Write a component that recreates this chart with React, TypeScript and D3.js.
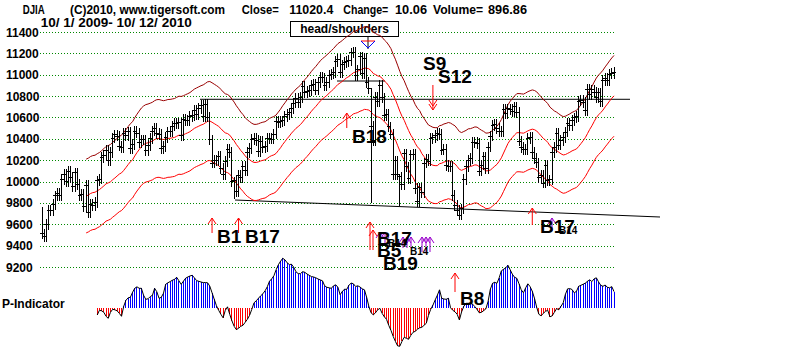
import React from 'react';
import * as d3 from 'd3';

// ---- DJIA daily closes, 10/1/2009 - 10/12/2010 ----
const prevClose = 9712;
const closesOct09 = [9509, 9488, 9600, 9731, 9726, 9787, 9865, 9886, 9871, 10016, 10063, 9996, 10092, 10041, 9949, 10081, 9972, 9868, 9882, 9763, 9963, 9713];
const closesNov09 = [9789, 9772, 9802, 10006, 10023, 10227, 10247, 10291, 10197, 10270, 10407, 10437, 10426, 10332, 10318, 10451, 10434, 10464, 10310, 10345];
const closesDec09 = [10472, 10453, 10366, 10389, 10390, 10286, 10337, 10406, 10472, 10501, 10452, 10441, 10308, 10329, 10414, 10465, 10466, 10520, 10547, 10545, 10549, 10428];
const closesJan10 = [10584, 10572, 10574, 10607, 10618, 10664, 10627, 10681, 10711, 10610, 10725, 10603, 10390, 10173, 10197, 10194, 10236, 10120, 10067];
const closesFeb10 = [10186, 10297, 10271, 10002, 10012, 9908, 10059, 10038, 10144, 10099, 10269, 10309, 10393, 10402, 10383, 10282, 10374, 10321, 10325];
const closesMar10 = [10404, 10406, 10397, 10444, 10566, 10553, 10564, 10568, 10612, 10625, 10642, 10686, 10734, 10779, 10742, 10786, 10889, 10836, 10841, 10850, 10896, 10907, 10857];
const closesApr10 = [10927, 10974, 10970, 10898, 10927, 10997, 11006, 11019, 11123, 11145, 11019, 11092, 11117, 11125, 11134, 11204, 11205, 10992, 11045, 11167, 11009];
const closesMay10 = [11152, 10927, 10868, 10520, 10380, 10785, 10748, 10897, 10783, 10620, 10626, 10511, 10444, 10068, 10193, 10067, 10044, 9974, 10259, 10137];
const closesJun10 = [10024, 10250, 10255, 9932, 9816, 9940, 9899, 10173, 10211, 10191, 10405, 10409, 10434, 10451, 10442, 10294, 10298, 10153, 10144, 10139, 9870, 9774];
const closesJul10 = [9733, 9686, 9744, 10018, 10139, 10198, 10216, 10363, 10367, 10359, 10098, 10154, 10230, 10121, 10322, 10425, 10525, 10538, 10498, 10467, 10466];
const closesAug10 = [10674, 10636, 10680, 10675, 10654, 10699, 10644, 10379, 10320, 10303, 10302, 10406, 10416, 10271, 10214, 10174, 10040, 10060, 9986, 10151, 10010, 10015];
const closesSep10 = [10269, 10320, 10448, 10341, 10387, 10415, 10463, 10544, 10526, 10573, 10595, 10608, 10754, 10761, 10739, 10662, 10860, 10812, 10858, 10835, 10788];
const closesOct10 = [10830, 10751, 10945, 10968, 10949, 11006, 11010, 11020.4];

// bars with unusually long intraday ranges
const longBars = [
  { i: 87, hi: 10040, lo: 9835 },
  { i: 149, hi: 10880, lo: 9800 },
  { i: 162, hi: 10070, lo: 9774 },
];

// P-Indicator, starting at bar 25
const pStart = 25;
const pIndicator = [
  -6.7, -2, -2.5, -4, -8, -10, -4, -1, -1.5, -2.5,
  -5, -8, 2, 8, 10.5, 11, 16, 20, 21.5, 20,
  20, 13, 9, 9.5, 11.7, 13, 20, 16.5, 10, 11,
  15, 24, 25.5, 26.7, 28, 29, 31, 27.5, 24, 27,
  30, 31.3, 32.3, 33, 30.5, 27.7, 27, 26.3, 25.7, 25.8,
  25.5, 22, 15.5, 9, 2.5, -2, -6, -9.5, -2, 1.5,
  -6, -12.5, -18, -21.3, -20, -18, -17, -14, -11, -7,
  -1, 5.5, 7.5, 10, 12.5, 14.5, 17.5, 21.5, 27, 29.5,
  32.5, 38.5, 43.5, 47, 50, 48.5, 45.5, 43.8, 44, 41,
  36.5, 34.7, 34.6, 36.6, 36, 34.3, 33, 31.8, 31.3, 30.5,
  29.3, 28.4, 27.5, 22.5, 21, 20.5, 20, 22.5, 23.5, 21,
  13.5, 17, 19, 19, 23, 25.3, 24.5, 21.8, 22.5, 21.3,
  19.5, 18.5, 11, 2, -4.5, -6.5, -4.5, -1.5, 0, -5,
  -8.5, -11, -17, -22, -28, -33, -37.5, -38, -33, -29,
  -30, -31, -27, -24, -23, -21, -19.5, -19, -17, -15,
  -7, -1, 3, 8.3, 13, 18.5, 10, 9.3, 9, 10,
  0.5, -2, -3.5, -6, -11.7, -3.5, 2, 5, 5, 5,
  4, 1.8, -1.2, -4.5, -4, -2.3, -0.5, 7, 19, 25,
  26, 25, 30.5, 37.5, 39, 40.5, 43, 38.5, 34, 31,
  30, 24.5, 18.5, 15.5, 20.5, 24.5, 21.7, 17, 10, 1,
  -6, -7.5, -5, -3, -2, -8.5, -7.5, -4, -0.3, -1.5,
  2, 5.5, 14, 19.5, 19.7, 18.8, 15.5, 17, 22, 23,
  24, 25.2, 27, 28.5, 26.7, 29.5, 30.5, 26.5, 23, 22,
  23.3, 21, 20.5, 21.7, 16.7,
];

const yTicks = [11400, 11200, 11000, 10800, 10600, 10400, 10200, 10000, 9800, 9600, 9400, 9200];

const closes = [
  ...closesOct09, ...closesNov09, ...closesDec09, ...closesJan10, ...closesFeb10, ...closesMar10,
  ...closesApr10, ...closesMay10, ...closesJun10, ...closesJul10, ...closesAug10, ...closesSep10, ...closesOct10,
];

const FONT = "'Liberation Sans', Arial, Helvetica, sans-serif";
const PAD = 50;
const MA_LEN = 21;
const BAND = 0.035;

const UpArrow = ({ x, y1, y2, color }: { x: number; y1: number; y2: number; color: string }) => (
  <g stroke={color} strokeWidth={1} fill="none">
    <line x1={x} y1={y1} x2={x} y2={y2} />
    <polyline points={`${x - 4},${y1 + 6} ${x},${y1} ${x + 4},${y1 + 6}`} />
  </g>
);

const DownArrow = ({ x, y1, y2, color }: { x: number; y1: number; y2: number; color: string }) => (
  <g stroke={color} strokeWidth={1} fill="none">
    <line x1={x} y1={y1} x2={x} y2={y2} />
    <polyline points={`${x - 4},${y2 - 6} ${x},${y2} ${x + 4},${y2 - 6}`} />
    <polyline points={`${x - 4},${y2 - 10} ${x},${y2 - 4} ${x + 4},${y2 - 10}`} />
  </g>
);

export default function App() {
  const N = closes.length;
  const x = d3.scaleLinear().domain([0, N - 1]).range([42, 614]);
  const y = d3.scaleLinear().domain([9200, 11400]).range([267, 32]);
  const pY = d3.scaleLinear().domain([0, 50]).range([308.3, 258.3]);

  const bars = closes.map((c, i) => {
    const o = i === 0 ? prevClose : closes[i - 1];
    const ov = longBars.find((b) => b.i === i);
    const hi = ov ? ov.hi : Math.max(o, c) + PAD;
    const lo = ov ? ov.lo : Math.min(o, c) - PAD;
    return { i, c, hi, lo };
  });

  const ma = closes.map((_, i) => (i < MA_LEN - 1 ? null : (d3.mean(closes.slice(i - MA_LEN + 1, i + 1)) as number)));
  const mkLine = (k: number) =>
    d3
      .line<number | null>()
      .defined((d) => d !== null)
      .x((_, i) => x(i))
      .y((d) => y((d as number) * k))(ma) || '';

  const pData = pIndicator.map((v, j) => ({ i: j + pStart, v }));
  const pLine = d3
    .line<{ i: number; v: number }>()
    .x((d) => x(d.i))
    .y((d) => pY(d.v))(pData) || '';

  const bold = { fontFamily: FONT, fontWeight: 700 } as const;

  return (
    <svg width={800} height={357} style={{ position: 'absolute', left: 0, top: 0, background: '#fff' }}>
      <rect x={0} y={0} width={800} height={357} fill="#fff" />

      {/* header */}
      <g {...bold} fontSize={12} fill="#000">
        <text x={22.7} y={14} textLength={22} lengthAdjust="spacingAndGlyphs">DJIA</text>
        <text x={70} y={14} textLength={155} lengthAdjust="spacingAndGlyphs">(C)2010, www.tigersoft.com</text>
        <text x={241.7} y={14} textLength={37} lengthAdjust="spacingAndGlyphs">Close=</text>
        <text x={289.3} y={14} textLength={44} lengthAdjust="spacingAndGlyphs">11020.4</text>
        <text x={343.3} y={14} textLength={45} lengthAdjust="spacingAndGlyphs">Change=</text>
        <text x={395} y={14} textLength={32} lengthAdjust="spacingAndGlyphs">10.06</text>
        <text x={433} y={14} textLength={50} lengthAdjust="spacingAndGlyphs">Volume=</text>
        <text x={488} y={14} textLength={39} lengthAdjust="spacingAndGlyphs">896.86</text>
        <text x={40.7} y={26.7} textLength={151} lengthAdjust="spacingAndGlyphs">10/ 1/ 2009- 10/ 12/ 2010</text>
      </g>

      {/* grid + y labels */}
      {yTicks.map((t) => (
        <g key={t}>
          <line x1={40} x2={614} y1={Math.round(y(t)) + 0.5} y2={Math.round(y(t)) + 0.5} stroke="#008800" strokeWidth={1} strokeDasharray="1,2" />
          <text x={6} y={y(t) + 4.5} {...bold} fontSize={12} fill="#000">{t}</text>
        </g>
      ))}

      {/* head/shoulders box */}
      <rect x={290.5} y={21.5} width={108} height={15} fill="#fff" stroke="#000" strokeWidth={1} />
      <text x={344.5} y={33} textAnchor="middle" {...bold} fontSize={12}>head/shoulders</text>
      <line x1={368} x2={368} y1={37} y2={49} stroke="#000" />
      <line x1={361} x2={375} y1={41} y2={41} stroke="#ff0000" />
      <polyline points="361,41 368,48 375,41" fill="none" stroke="#0000ff" />

      {/* reference lines */}
      <line x1={200} x2={630} y1={y(10770)} y2={y(10770)} stroke="#000" strokeWidth={1} />
      <line x1={235} x2={660} y1={200} y2={217} stroke="#000" strokeWidth={1} />
      <line x1={337} x2={385} y1={81} y2={81} stroke="#000" strokeWidth={1} />

      {/* bands */}
      <path d={mkLine(1 + BAND)} fill="none" stroke="#990000" strokeWidth={1} />
      <path d={mkLine(1)} fill="none" stroke="#ff0000" strokeWidth={1} />
      <path d={mkLine(1 - BAND)} fill="none" stroke="#ff0000" strokeWidth={1} />

      {/* price bars */}
      <g stroke="#000" strokeWidth={1} shapeRendering="crispEdges">
        {bars.map((b) => (
          <g key={b.i}>
            <line x1={x(b.i)} x2={x(b.i)} y1={y(b.hi)} y2={y(b.lo)} />
            <line x1={x(b.i) - 2} x2={x(b.i) + 2} y1={y(b.c)} y2={y(b.c)} />
          </g>
        ))}
      </g>

      {/* P-Indicator */}
      <g strokeWidth={1} shapeRendering="crispEdges">
        {pData.map((d) => (
          <line key={d.i} x1={x(d.i)} x2={x(d.i)} y1={pY(0)} y2={pY(d.v)} stroke={d.v >= 0 ? '#0000ff' : '#ff0000'} />
        ))}
      </g>
      <path d={pLine} fill="none" stroke="#000" strokeWidth={1} />
      <text x={2} y={308} {...bold} fontSize={12}>P-Indicator</text>

      {/* signals */}
      <g {...bold} fontSize={19} fill="#000">
        <DownArrow x={x(177)} y1={85} y2={110} color="#ff0000" />
        <text x={423} y={70}>S9</text>
        <text x={438} y={83}>S12</text>

        <UpArrow x={x(138)} y1={113} y2={128} color="#ff0000" />
        <text x={352} y={143}>B18</text>

        <UpArrow x={x(77)} y1={218} y2={233} color="#ff0000" />
        <UpArrow x={x(89)} y1={218} y2={233} color="#ff0000" />
        <text x={217} y={243}>B1</text>
        <text x={245} y={243}>B17</text>

        <UpArrow x={370} y1={222} y2={250} color="#ff0000" />
        <UpArrow x={373} y1={230} y2={250} color="#ff0000" />
        <UpArrow x={380} y1={232} y2={245} color="#9900cc" />
        <UpArrow x={385} y1={232} y2={245} color="#9900cc" />
        <UpArrow x={403} y1={237} y2={248} color="#9900cc" />
        <UpArrow x={407} y1={237} y2={248} color="#9900cc" />
        <UpArrow x={411} y1={237} y2={248} color="#9900cc" />
        <UpArrow x={422} y1={237} y2={252} color="#9900cc" />
        <UpArrow x={426} y1={237} y2={252} color="#9900cc" />
        <UpArrow x={430} y1={237} y2={252} color="#9900cc" />
        <text x={377} y={245}>B17</text>
        <text x={377} y={257}>B5</text>
        <text x={383} y={270}>B19</text>
        <text x={388} y={247} fontSize={10}>B14</text>
        <text x={410} y={255} fontSize={10}>B14</text>

        <UpArrow x={455} y1={273} y2={292} color="#ff0000" />
        <text x={460} y={305}>B8</text>

        <UpArrow x={x(222)} y1={208} y2={225} color="#ff0000" />
        <UpArrow x={552} y1={218} y2={231} color="#9900cc" />
        <text x={540} y={233}>B17</text>
        <text x={559} y={234} fontSize={10}>B14</text>
      </g>
    </svg>
  );
}
